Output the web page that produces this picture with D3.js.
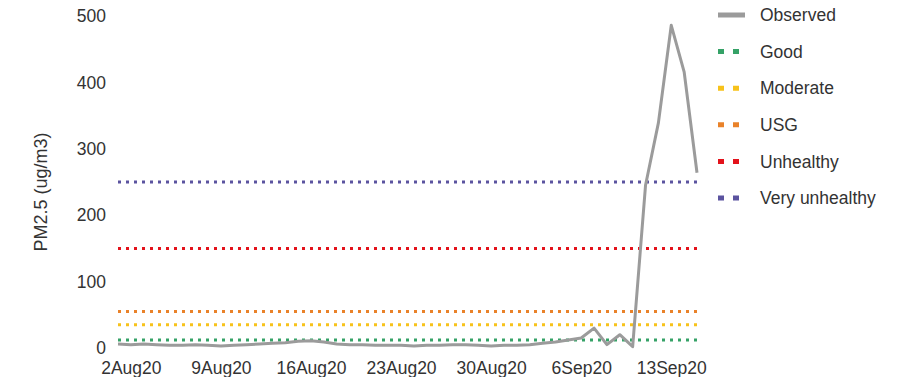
<!DOCTYPE html>
<html lang="en">
  <head>
    <meta charset="UTF-8">
    <title>PM2.5 observed vs AQI thresholds</title>
    <style>
      body { margin: 0; background: #fff; }
      text { font-family: "Liberation Sans", Arial, sans-serif; fill: #333; }
      .tick text { font-size: 17.5px; }
      .legend text { font-size: 17.5px; }
      .obs { fill: none; stroke: #9b9b9b; stroke-width: 3px; stroke-linejoin: round; }
      .threshold { stroke-width: 3px; stroke-dasharray: 3, 5; }
    </style>
  </head>
  <body>
    <script src="https://d3js.org/d3.v7.min.js"></script>
    <script>
      // daily observed PM2.5, 1 Aug 2020 .. 15 Sep 2020
      const startDate = "2020-08-01";
      const observed = [
        6, 5, 6, 5, 4, 4, 5, 4, 3, 4,
        5, 6, 7, 8, 10, 11, 9, 6, 5, 5,
        4, 4, 4, 3, 4, 4, 5, 5, 4, 3,
        4, 4, 5, 7, 9, 12, 15, 30, 5, 20,
        2, 245, 339, 486, 416, 264
      ];

      const levelNames = ["Good", "Moderate", "USG", "Unhealthy", "Very unhealthy"];
      const levelValues = [12, 35, 55, 150, 250];
      const levelColors = ["#35a267", "#f7c21b", "#e9822a", "#e3121b", "#5b539f"];

      const yTicks = [0, 100, 200, 300, 400, 500];
      const xTickDates = ["2020-08-02", "2020-08-09", "2020-08-16", "2020-08-23", "2020-08-30", "2020-09-06", "2020-09-13"];

      const parse = d3.timeParse("%Y-%m-%d");
      const t0 = parse(startDate);
      const data = observed.map((v, i) => ({ date: d3.timeDay.offset(t0, i), value: v }));

      const width = 902, height = 377;
      const svg = d3.select("body").append("svg")
        .attr("width", width)
        .attr("height", height);

      const x = d3.scaleTime()
        .domain(d3.extent(data, d => d.date))
        .range([118, 697]);
      const y = d3.scaleLinear()
        .domain([0, 500])
        .range([348, 16]);

      // y axis, labels only
      const yAxis = svg.append("g")
        .attr("transform", "translate(106,0)")
        .call(d3.axisLeft(y).tickValues(yTicks).tickSize(0).tickPadding(0));
      yAxis.select(".domain").remove();
      yAxis.selectAll("text").attr("fill", "#333");

      // x axis, labels only
      const fmt = d => d3.timeFormat("%-d")(d) + d3.timeFormat("%b%y")(d);
      const xAxis = svg.append("g")
        .attr("transform", "translate(0,361)")
        .call(d3.axisBottom(x).tickValues(xTickDates.map(parse)).tickFormat(fmt).tickSize(0).tickPadding(0));
      xAxis.select(".domain").remove();
      xAxis.selectAll("text").attr("fill", "#333").attr("dy", "0.72em");

      svg.append("text")
        .attr("transform", "translate(47,192) rotate(-90)")
        .attr("text-anchor", "middle")
        .style("font-size", "18px")
        .text("PM2.5 (ug/m3)");

      // threshold lines
      svg.selectAll("line.threshold")
        .data(levelValues)
        .enter()
        .append("line")
        .attr("class", "threshold")
        .attr("x1", x.range()[0])
        .attr("x2", x.range()[1])
        .attr("y1", d => y(d))
        .attr("y2", d => y(d))
        .attr("stroke", (d, i) => levelColors[i]);

      // observed series
      const line = d3.line()
        .x(d => x(d.date))
        .y(d => y(d.value));
      svg.append("path")
        .datum(data)
        .attr("class", "obs")
        .attr("d", line);

      // legend
      const legend = svg.append("g").attr("class", "legend").attr("transform", "translate(718,15)");
      const rowH = 36.6;
      legend.append("line")
        .attr("x1", 0).attr("x2", 27)
        .attr("y1", 0).attr("y2", 0)
        .attr("stroke", "#9b9b9b")
        .attr("stroke-width", 5);
      legend.append("text")
        .attr("x", 42).attr("y", 0).attr("dy", "0.35em")
        .text("Observed");

      const items = legend.selectAll("g.item")
        .data(levelNames)
        .enter()
        .append("g")
        .attr("class", "item")
        .attr("transform", (d, i) => `translate(0,${(i + 1) * rowH})`);
      items.append("line")
        .attr("x1", 0).attr("x2", 24)
        .attr("y1", 0).attr("y2", 0)
        .attr("stroke", (d, i) => levelColors[i])
        .attr("stroke-width", 5)
        .attr("stroke-dasharray", "6,9");
      items.append("text")
        .attr("x", 42).attr("y", 0).attr("dy", "0.35em")
        .text(d => d);
    </script>
  </body>
</html>
